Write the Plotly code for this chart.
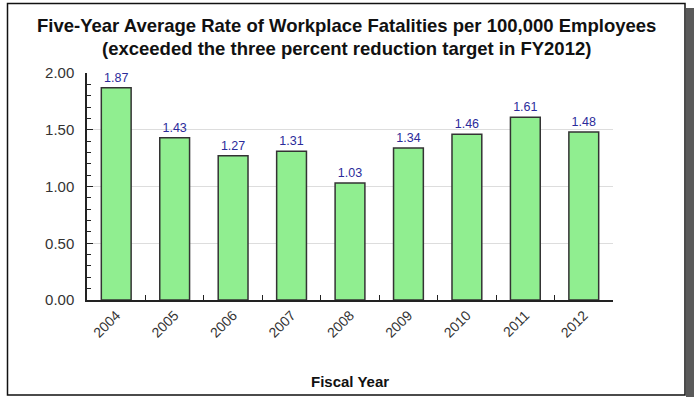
import plotly.graph_objects as go

# Fiscal years and five-year average fatality rates per 100,000 employees
years = ["2004", "2005", "2006", "2007", "2008", "2009", "2010", "2011", "2012"]
rates = [1.87, 1.43, 1.27, 1.31, 1.03, 1.34, 1.46, 1.61, 1.48]
y_ticks = [0.0, 0.5, 1.0, 1.5, 2.0]
y_tick_labels = ["0.00", "0.50", "1.00", "1.50", "2.00"]

title_lines = [
    "Five-Year Average Rate of Workplace Fatalities per 100,000 Employees",
    "(exceeded the three percent reduction target in FY2012)",
]

W, H = 694, 397
L, R, T, B = 87, 81, 73, 97
PW, PH = W - L - R, H - T - B


def px_x(x):
    return (x - L) / PW


def px_y(y):
    return (H - B - y) / PH


FONT = "Liberation Sans, Arial, sans-serif"

fig = go.Figure(
    go.Bar(
        x=years,
        y=rates,
        text=[f"{v:.2f}" for v in rates],
        textposition="outside",
        textfont=dict(family=FONT, size=12.5, color="#2b2b9a"),
        cliponaxis=False,
        marker=dict(color="#90ee90", line=dict(color="#333333", width=1.5)),
        width=0.51,
    )
)

fig.update_layout(
    width=W,
    height=H,
    margin=dict(l=L, r=R, t=T, b=B, pad=0),
    paper_bgcolor="white",
    plot_bgcolor="white",
    showlegend=False,
    font=dict(family=FONT, color="#333333"),
)

fig.update_xaxes(
    type="category",
    showline=True,
    linecolor="#222222",
    linewidth=1.5,
    ticks="inside",
    tickson="boundaries",
    ticklen=5,
    tickcolor="#222222",
    tickangle=-45,
    tickfont=dict(family=FONT, size=14, color="#333333"),
    showgrid=False,
)

fig.update_yaxes(
    range=[0, 2.0],
    tickvals=y_ticks,
    ticktext=y_tick_labels,
    showline=True,
    linecolor="#222222",
    linewidth=1.5,
    ticks="inside",
    ticklen=6,
    tickcolor="#222222",
    ticklabelstandoff=8,
    tickfont=dict(family=FONT, size=15, color="#333333"),
    showgrid=True,
    gridcolor="#dddddd",
    gridwidth=1,
    zeroline=False,
    minor=dict(dtick=0.1, ticks="inside", ticklen=4, tickcolor="#222222", showgrid=False),
)

# Title lines and axis title
for text, yc in zip(title_lines, [26, 48]):
    fig.add_annotation(
        text=f"<b>{text}</b>",
        xref="paper", yref="paper",
        x=px_x(346), y=px_y(yc),
        xanchor="center", yanchor="middle",
        showarrow=False,
        font=dict(family=FONT, size=18.5, color="#111111"),
    )

fig.add_annotation(
    text="<b>Fiscal Year</b>",
    xref="paper", yref="paper",
    x=px_x(350), y=px_y(381),
    xanchor="center", yanchor="middle",
    showarrow=False,
    font=dict(family=FONT, size=15, color="#111111"),
)

# Drop shadow on the right and the outer frame
fig.add_shape(
    type="rect", xref="paper", yref="paper",
    x0=px_x(686), x1=px_x(694), y0=px_y(8), y1=px_y(397),
    fillcolor="#5a5a5a", line=dict(width=0), layer="below",
)
fig.add_shape(
    type="rect", xref="paper", yref="paper",
    x0=px_x(7.5), x1=px_x(685), y0=px_y(3.5), y1=px_y(395),
    fillcolor="rgba(0,0,0,0)", line=dict(color="#111111", width=1.5),
)

fig.write_html("out.html")
